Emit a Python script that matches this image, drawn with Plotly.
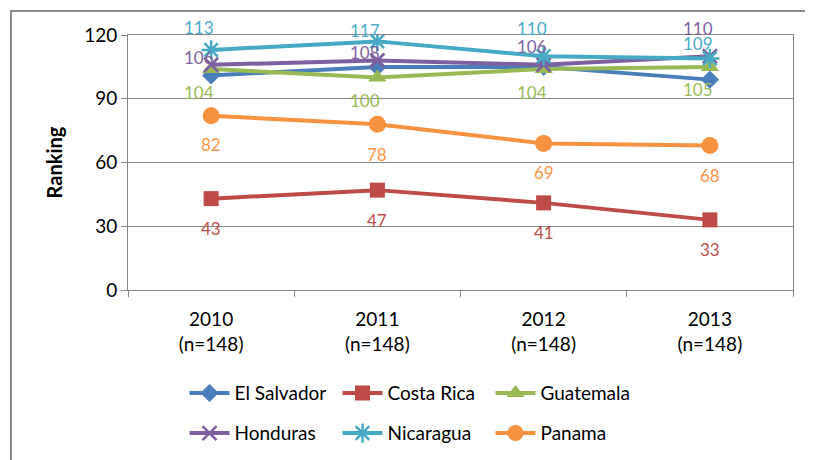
import plotly.graph_objects as go

years = ["2010<br>(n=148)", "2011<br>(n=148)", "2012<br>(n=148)", "2013<br>(n=148)"]
el_salvador = [101, 105, 105, 99]
costa_rica = [43, 47, 41, 33]
guatemala = [104, 100, 104, 105]
honduras = [106, 108, 106, 110]
nicaragua = [113, 117, 110, 109]
panama = [82, 78, 69, 68]
y_ticks = [0, 30, 60, 90, 120]

FONT = "Lato"

series = [
    ("El Salvador", el_salvador, "#4A7EBB", dict(symbol="diamond", size=14), None, None, "legend"),
    ("Costa Rica", costa_rica, "#BE4B48", dict(symbol="square", size=15), "#C0504D", ([-30, -30, -30, -30], 0), "legend"),
    ("Guatemala", guatemala, "#98B954", dict(symbol="triangle-up", size=16), "#9BBB59", ([-23, -23, -23, -23], -12), "legend"),
    ("Honduras", honduras, "#7D60A0", dict(symbol="x-thin-open", size=14, line=dict(width=2.5, color="#7D60A0")), "#8064A2", ([7, 8, 18, 28], -12), "legend2"),
    ("Nicaragua", nicaragua, "#46AAC5", dict(symbol="asterisk-open", size=16, line=dict(width=2.5, color="#46AAC5")), "#4BACC6", ([22, 11, 28, 15], -12), "legend2"),
    ("Panama", panama, "#F69240", dict(symbol="circle", size=17), "#F79646", ([-29, -30, -29, -30], 0), "legend2"),
]

fig = go.Figure()
annotations = []
for name, vals, color, marker, lblcolor, lbl, leg in series:
    m = dict(marker)
    m.setdefault("color", color)
    fig.add_trace(go.Scatter(
        x=years, y=vals, name=name, mode="lines+markers",
        line=dict(color=color, width=4), marker=m, legend=leg,
    ))
    if lbl is not None:
        yshifts, xs = lbl
        for xv, yv, ys in zip(years, vals, yshifts):
            annotations.append(dict(
                x=xv, y=yv, text=str(yv), showarrow=False, xref="x", yref="y",
                yshift=ys, xshift=xs, font=dict(family=FONT, size=17, color=lblcolor),
            ))

leg_common = dict(orientation="h", x=0.085, xanchor="left", yanchor="top", yref="container",
                  entrywidth=98, entrywidthmode="pixels", font=dict(size=19, family=FONT),
                  itemwidth=40, bgcolor="rgba(0,0,0,0)")

fig.update_layout(
    width=813, height=460,
    margin=dict(l=120, r=28, t=27, b=178),
    paper_bgcolor="white", plot_bgcolor="white",
    font=dict(family=FONT, size=19, color="#000000"),
    showlegend=True,
    legend=dict(leg_common, y=0.204),
    legend2=dict(leg_common, y=0.117),
    annotations=annotations,
    shapes=[dict(type="rect", xref="paper", yref="paper",
                 x0=-0.176, x1=1.2, y0=-0.8, y1=1.094,
                 line=dict(color="#8C8C8C", width=2), layer="below")],
)

fig.update_xaxes(
    type="category", range=[-0.5, 3.5], tickson="boundaries", ticks="outside", ticklen=6,
    tickcolor="#868686", showline=True, linecolor="#868686", linewidth=1,
    mirror=True, showgrid=False, tickfont=dict(size=19, family=FONT),
    ticklabelstandoff=12, automargin=False,
)
fig.update_yaxes(
    range=[0, 120], tickvals=y_ticks, ticks="outside", ticklen=6,
    tickcolor="#868686", showline=True, linecolor="#868686", linewidth=1,
    mirror=True, showgrid=True, gridcolor="#868686", gridwidth=1, zeroline=False,
    tickfont=dict(size=19, family=FONT), automargin=False,
    title=dict(text="<b>Ranking</b>", font=dict(size=20, family=FONT), standoff=16),
)

fig.write_html("out.html")
